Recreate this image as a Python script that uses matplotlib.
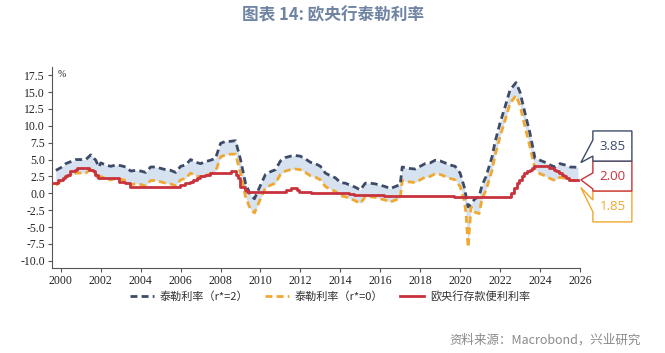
import matplotlib
matplotlib.use("Agg")
import matplotlib.pyplot as plt
from matplotlib.patches import Polygon

# ---- data ----
years = [1999.75, 2000.0, 2000.25, 2000.5, 2000.75, 2001.0, 2001.25, 2001.5, 2001.75, 2001.9,
         2002.0, 2002.25, 2002.5, 2002.75, 2003.0, 2003.25, 2003.5, 2003.75, 2004.0, 2004.25,
         2004.5, 2004.75, 2005.0, 2005.25, 2005.5, 2005.75, 2006.0, 2006.25, 2006.5, 2006.75,
         2007.0, 2007.25, 2007.5, 2007.75, 2008.0, 2008.25, 2008.5, 2008.75, 2009.0, 2009.25,
         2009.5, 2009.7, 2010.0, 2010.25, 2010.5, 2010.75, 2011.0, 2011.25, 2011.5, 2011.75,
         2012.0, 2012.25, 2012.5, 2012.75, 2013.0, 2013.25, 2013.5, 2013.75, 2014.0, 2014.25,
         2014.5, 2014.75, 2015.0, 2015.25, 2015.5, 2015.75, 2016.0, 2016.25, 2016.5, 2016.75,
         2017.0, 2017.1, 2017.4, 2017.75, 2018.0, 2018.25, 2018.5, 2018.75, 2019.0, 2019.25,
         2019.5, 2019.75, 2020.0, 2020.2, 2020.3, 2020.4, 2020.55, 2020.75, 2020.95, 2021.1,
         2021.3, 2021.6, 2021.75, 2022.0, 2022.25, 2022.5, 2022.8, 2023.0, 2023.25, 2023.5,
         2023.75, 2024.0, 2024.25, 2024.5, 2024.75, 2025.0, 2025.25, 2025.5, 2025.9]

taylor_r2 = [3.4, 3.8, 4.4, 4.7, 5.0, 5.0, 5.0, 5.7, 4.9, 3.9,
             4.5, 4.2, 4.0, 4.2, 4.1, 3.9, 3.3, 3.4, 3.3, 3.1,
             3.9, 3.9, 3.7, 3.5, 3.4, 3.1, 4.0, 4.2, 5.0, 4.6,
             4.4, 4.7, 4.9, 5.2, 7.4, 7.7, 7.7, 7.8, 5.0, 1.5,
             -0.3, -0.8, 1.2, 2.8, 3.2, 3.5, 4.8, 5.3, 5.5, 5.6,
             5.5, 5.1, 4.6, 4.4, 4.0, 3.0, 2.6, 2.3, 1.6, 1.5,
             1.2, 0.9, 0.5, 1.5, 1.5, 1.4, 1.2, 1.0, 0.7, 1.0,
             1.3, 3.9, 3.7, 3.6, 4.0, 4.4, 4.5, 4.9, 4.8, 4.5,
             4.2, 4.0, 3.0, 1.0, -0.5, -2.0, -1.5, -0.8, -0.5, 1.2,
             2.5, 5.4, 7.6, 10.4, 12.8, 15.3, 16.4, 15.0, 11.9, 8.9,
             5.2, 4.9, 4.6, 4.2, 3.9, 4.4, 4.2, 3.9, 3.85]

taylor_r0 = [1.2, 1.8, 2.4, 2.7, 3.0, 3.0, 3.0, 3.6, 2.9, 1.9,
             2.5, 2.2, 2.0, 2.2, 2.1, 1.9, 1.3, 1.4, 1.3, 1.1,
             1.9, 1.9, 1.7, 1.5, 1.4, 1.1, 2.0, 2.2, 3.0, 2.6,
             2.4, 2.7, 2.9, 3.2, 5.4, 5.7, 5.8, 5.8, 3.0, -0.5,
             -2.4, -2.9, -0.8, 0.8, 1.2, 1.5, 2.8, 3.3, 3.5, 3.6,
             3.5, 3.1, 2.6, 2.4, 2.0, 1.0, 0.6, 0.3, -0.4, -0.5,
             -0.8, -1.1, -1.5, -0.5, -0.5, -0.6, -0.8, -1.0, -1.3, -1.0,
             -0.7, 1.9, 1.7, 1.6, 2.0, 2.4, 2.5, 2.9, 2.8, 2.5,
             2.2, 2.0, 1.0, -1.0, -3.0, -8.0, -2.0, -2.8, -3.0, -0.8,
             0.5, 3.4, 5.6, 8.4, 10.8, 13.3, 14.5, 13.0, 9.9, 6.9,
             3.6, 2.9, 2.6, 2.2, 1.9, 2.4, 2.2, 1.9, 1.85]

# ECB deposit facility rate (change dates as decimal years)
dfr_years = [1999.6, 1999.85, 2000.1, 2000.2, 2000.3, 2000.45, 2000.7, 2000.8, 2001.4, 2001.6,
             2001.7, 2001.85, 2002.9, 2003.2, 2003.45, 2005.95, 2006.2, 2006.45, 2006.6, 2006.8,
             2006.95, 2007.2, 2007.45, 2008.5, 2008.77, 2008.85, 2008.95, 2009.2, 2009.3, 2011.3,
             2011.55, 2011.85, 2011.95, 2012.55, 2014.45, 2014.7, 2015.95, 2016.2, 2019.7, 2022.55,
             2022.7, 2022.85, 2022.97, 2023.1, 2023.2, 2023.35, 2023.5, 2023.6, 2023.7, 2024.45,
             2024.7, 2024.8, 2024.97, 2025.1, 2025.2, 2025.3, 2025.45, 2025.9]
dfr = [1.5, 2.0, 2.25, 2.5, 2.75, 3.25, 3.5, 3.75, 3.5, 3.25,
       2.75, 2.25, 1.75, 1.5, 1.0, 1.25, 1.5, 1.75, 2.0, 2.25,
       2.5, 2.75, 3.0, 3.25, 2.75, 2.25, 1.0, 0.5, 0.25, 0.5,
       0.75, 0.5, 0.25, 0.0, -0.1, -0.2, -0.3, -0.4, -0.5, 0.0,
       0.75, 1.5, 2.0, 2.5, 3.0, 3.25, 3.5, 3.75, 4.0, 3.75,
       3.5, 3.25, 3.0, 2.75, 2.5, 2.25, 2.0, 2.0]

labels = ["泰勒利率（r*=2）", "泰勒利率（r*=0）", "欧央行存款便利利率"]
x_ticks = list(range(2000, 2027, 2))
y_ticks = [-10.0, -7.5, -5.0, -2.5, 0.0, 2.5, 5.0, 7.5, 10.0, 12.5, 15.0, 17.5]

# ---- style ----
c_blue = "#3d4a68"
c_orange = "#f0a830"
c_red = "#c8323c"
c_fill = "#d6e2ef"
cjk = ["Noto Sans CJK SC", "DejaVu Sans"]
plt.rcParams["font.family"] = cjk

fig = plt.figure(figsize=(6.65, 3.53), dpi=100)
ax = fig.add_axes([0.078, 0.241, 0.794, 0.569])

ax.fill_between(years, taylor_r2, taylor_r0, color=c_fill, lw=0, zorder=1)
ax.plot(years, taylor_r2, color=c_blue, lw=2, dashes=(2.5, 1.5), label=labels[0], zorder=3)
ax.plot(years, taylor_r0, color=c_orange, lw=2, dashes=(2.5, 1.5), label=labels[1], zorder=2)
ax.plot(dfr_years, dfr, color=c_red, lw=2, drawstyle="steps-post", label=labels[2], zorder=4)

ax.set_xlim(1999.55, 2026.0)
ax.set_ylim(-11.05, 18.7)
ax.set_xticks(x_ticks)
ax.set_yticks(y_ticks)
ax.set_yticklabels([f"{v:.1f}" for v in y_ticks])
for s in ["top", "right"]:
    ax.spines[s].set_visible(False)
for s in ["left", "bottom"]:
    ax.spines[s].set_color("#555555")
ax.tick_params(axis="both", length=3, color="#555555", labelsize=8.5, labelcolor="#222222", pad=2)
for lab in ax.get_xticklabels() + ax.get_yticklabels():
    lab.set_fontfamily("Liberation Serif")
ax.text(0.011, 0.965, "%", transform=ax.transAxes, fontsize=7,
        family="Liberation Serif", color="#222222", va="center")

leg = fig.legend(loc="center", bbox_to_anchor=(0.496, 0.161), ncol=3, frameon=False,
                 fontsize=8, handlelength=2.2, columnspacing=1.5, handletextpad=0.5)
for t in leg.get_texts():
    t.set_color("#333333")

# ---- callout boxes at the right end ----
def to_axes(x, y):
    disp = ax.transData.transform((x, y))
    return ax.transAxes.inverted().transform(disp)

def callout(text, color, top, bottom, wedge, tip_y):
    x0, x1 = 1.0246, 1.0985
    tx, ty = to_axes(years[-1] + 0.15, tip_y)
    pts = [(x0, top), (x1, top), (x1, bottom), (x0, bottom),
           (x0, wedge[1]), (tx, ty), (x0, wedge[0])]
    ax.add_patch(Polygon(pts, closed=True, facecolor="white", edgecolor=color,
                         lw=1, clip_on=False, transform=ax.transAxes, zorder=5))
    ax.text((x0 + x1) / 2, (top + bottom) / 2, text, color=color, fontsize=9.5,
            family="Open Sans", ha="center", va="center", transform=ax.transAxes, zorder=6)

callout(f"{taylor_r0[-1]:.2f}", c_orange, 0.383, 0.229, (0.338, 0.279), taylor_r0[-1] - 1.0)
callout(f"{dfr[-1]:.2f}", c_red, 0.532, 0.383, (0.473, 0.393), dfr[-1])
callout(f"{taylor_r2[-1]:.2f}", c_blue, 0.682, 0.532, (0.637, 0.557), taylor_r2[-1] + 0.7)

fig.text(0.5, 0.955, "图表 14: 欧央行泰勒利率", ha="center", va="center",
         fontsize=12, fontweight="bold", color="#6f84a3")
fig.text(0.963, 0.037, "资料来源：Macrobond，兴业研究", ha="right", va="center",
         fontsize=9, color="#8a8a8a")

fig.savefig("out.png", dpi=100)
